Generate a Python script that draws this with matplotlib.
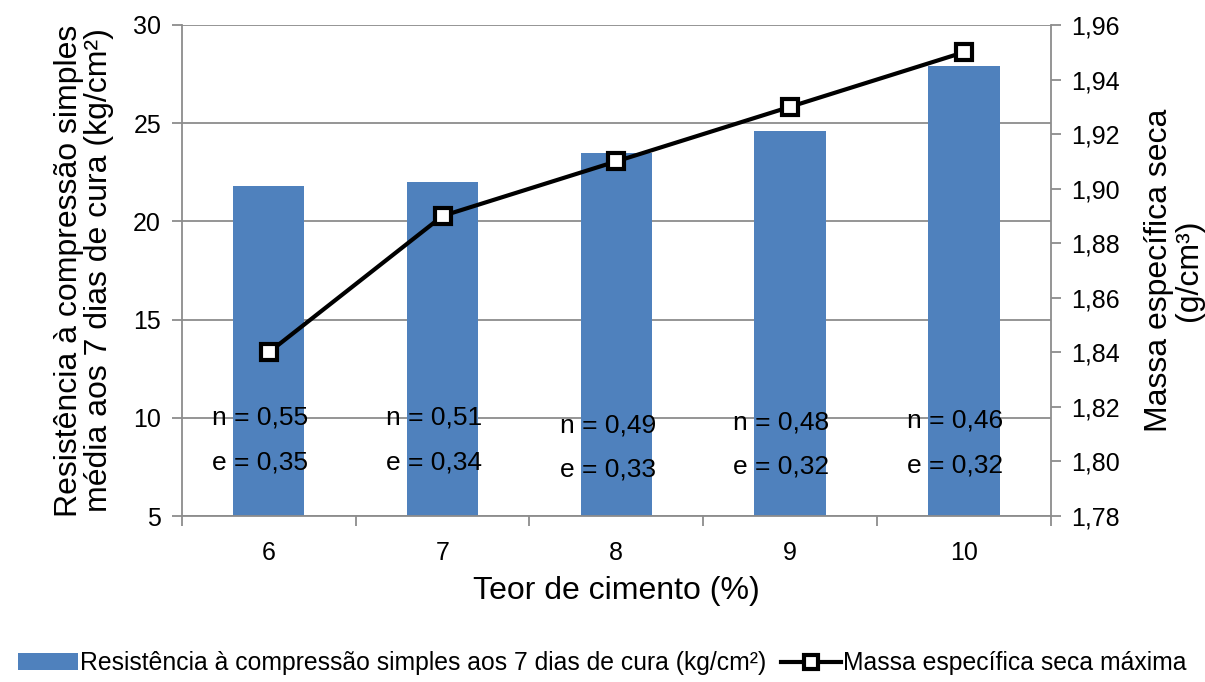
import matplotlib.pyplot as plt
from matplotlib.ticker import MultipleLocator, FixedLocator, FuncFormatter

plt.rcParams['font.family'] = ['Liberation Sans', 'DejaVu Sans']

teor = ["6", "7", "8", "9", "10"]
resistencia = [21.8, 22.0, 23.5, 24.6, 27.9]
massa = [1.84, 1.89, 1.91, 1.93, 1.95]
n_vals = ["0,55", "0,51", "0,49", "0,48", "0,46"]
e_vals = ["0,35", "0,34", "0,33", "0,32", "0,32"]
# vertical position of the n / e labels (left axis units)
n_y = [10.0, 10.0, 9.6, 9.75, 9.85]
e_y = [7.7, 7.7, 7.35, 7.5, 7.55]

blue = "#4f81bd"
grid_c = "#8c8c8c"

fig = plt.figure(figsize=(12.05, 6.82), dpi=100)
ax = fig.add_axes([0.151, 0.2434, 0.721, 0.72])
ax2 = ax.twinx()

x = list(range(len(teor)))
bars = ax.bar(x, resistencia, width=0.41, color=blue, zorder=2,
              label="Resistência à compressão simples aos 7 dias de cura (kg/cm²)")
ax.set_xlim(-0.5, len(teor) - 0.5)
ax.set_ylim(5, 30)
ax.yaxis.set_major_locator(MultipleLocator(5))
ax.grid(axis="y", color=grid_c, linewidth=1.3, zorder=0)
ax.set_axisbelow(True)

ax.set_xticks(x)
ax.set_xticklabels(teor)
ax.xaxis.set_minor_locator(FixedLocator([i - 0.5 for i in range(len(teor) + 1)]))
ax.tick_params(axis="x", which="major", length=0, labelsize=18, pad=18)
ax.tick_params(axis="x", which="minor", length=7, color=grid_c, width=1.3)
ax.tick_params(axis="y", length=7, color=grid_c, width=1.3, labelsize=18, pad=8)

for side in ["top", "right"]:
    ax.spines[side].set_visible(False)
    ax2.spines[side].set_visible(False)
ax2.spines["right"].set_visible(True)
for sp in [ax.spines["left"], ax.spines["bottom"], ax2.spines["right"]]:
    sp.set_color(grid_c)
    sp.set_linewidth(1.3)
ax2.spines["left"].set_visible(False)
ax2.spines["bottom"].set_visible(False)

line, = ax2.plot(x, massa, color="black", linewidth=3, marker="s", markersize=12,
                 markerfacecolor="white", markeredgecolor="black", markeredgewidth=3,
                 label="Massa específica seca máxima", zorder=3)
ax2.set_ylim(1.78, 1.96)
ax2.yaxis.set_major_locator(MultipleLocator(0.02))
ax2.yaxis.set_major_formatter(FuncFormatter(lambda v, p: f"{v:.2f}".replace(".", ",")))
ax2.tick_params(axis="y", length=7, color=grid_c, width=1.3, labelsize=18, pad=8)

for i in x:
    ax.text(i - 0.05, n_y[i], "n = " + n_vals[i], ha="center", va="center", fontsize=19, zorder=4)
    ax.text(i - 0.05, e_y[i], "e = " + e_vals[i], ha="center", va="center", fontsize=19, zorder=4)

ax.set_xlabel("Teor de cimento (%)", fontsize=23, labelpad=8)
ax.set_ylabel("Resistência à compressão simples\nmédia aos 7 dias de cura (kg/cm²)",
              fontsize=23, labelpad=14, linespacing=1.0)
ax2.set_ylabel("Massa específica seca\n(g/cm³)", fontsize=23, labelpad=17, linespacing=1.0)

fig.legend(handles=[bars, line], loc="lower center", bbox_to_anchor=(0.5, -0.012), ncol=2,
           frameon=False, fontsize=17.8, handlelength=2.4, handletextpad=0.1, columnspacing=0.6,
           borderaxespad=0.2, markerscale=0.8)

fig.savefig("out.png", dpi=100)
